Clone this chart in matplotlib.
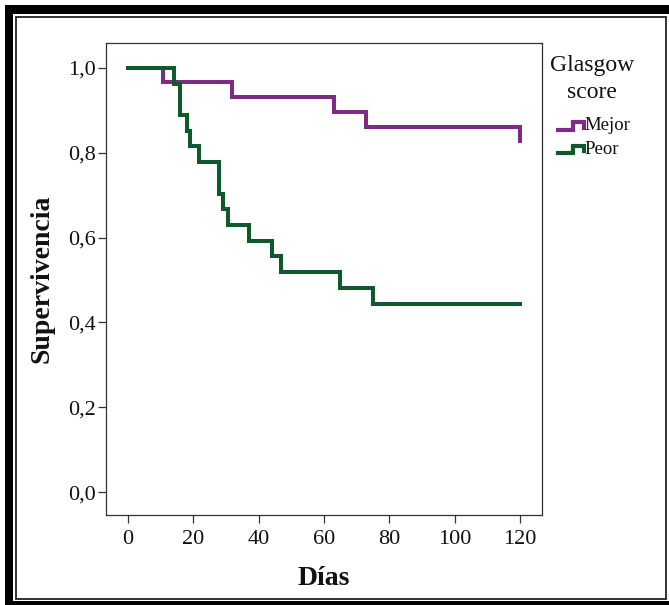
import matplotlib
matplotlib.use("Agg")
import matplotlib.pyplot as plt
from matplotlib.patches import Rectangle
from matplotlib.lines import Line2D

# ---- data ----
group_names = ["Mejor", "Peor"]
mejor_days = [0, 10.6, 32, 63, 73, 120]
mejor_surv = [1.0, 0.966, 0.931, 0.897, 0.862, 0.828]
peor_days = [0, 14.1, 15.9, 18.2, 19.0, 21.8, 28.0, 29.2, 30.7, 37.0, 44.0, 46.8, 64.9, 75.1, 120]
peor_surv = [1.0, 0.963, 0.889, 0.852, 0.815, 0.778, 0.704, 0.667, 0.630, 0.593, 0.556, 0.519, 0.481, 0.444, 0.444]
x_ticks = [0, 20, 40, 60, 80, 100, 120]
y_ticks = [0.0, 0.2, 0.4, 0.6, 0.8, 1.0]
y_tick_labels = ["0,0", "0,2", "0,4", "0,6", "0,8", "1,0"]

PURPLE = "#7e2b86"
GREEN = "#0e5a2d"
FONT = "Liberation Serif"

W, H = 669, 605
fig = plt.figure(figsize=(W / 100, H / 100), dpi=100)
plt.rcParams["font.family"] = FONT


def fx(x):
    return x / W


def fy(y):
    return 1 - y / H


def rect_px(x0, y0, x1, y1, **kw):
    fig.add_artist(Rectangle((fx(x0), fy(y1)), fx(x1) - fx(x0), fy(y0) - fy(y1),
                             transform=fig.transFigure, **kw))


# frame: thick outer bars and thin inner rectangle
rect_px(5, 5, 12.5, 605, facecolor="black", edgecolor="none")
rect_px(5, 5, 669, 13.5, facecolor="black", edgecolor="none")
rect_px(5, 600.5, 669, 605, facecolor="black", edgecolor="none")
rect_px(15.5, 16.5, 666, 598.5, facecolor="none", edgecolor="#222222", linewidth=1.3)

# axes
left, right, top, bottom = 106, 542, 43, 515
ax = fig.add_axes([fx(left), fy(bottom), fx(right) - fx(left), fy(top) - fy(bottom)])
ax.step(mejor_days, mejor_surv, where="post", color=PURPLE, linewidth=2.9, solid_joinstyle="miter")
ax.step(peor_days, peor_surv, where="post", color=GREEN, linewidth=2.9, solid_joinstyle="miter")

ax.set_xlim(-6.7, 126.7)
ax.set_ylim(-0.054, 1.059)
ax.set_xticks(x_ticks)
ax.set_xticklabels([str(t) for t in x_ticks])
ax.set_yticks(y_ticks)
ax.set_yticklabels(y_tick_labels)
for s in ax.spines.values():
    s.set_color("#333333")
    s.set_linewidth(0.9)
ax.tick_params(axis="both", direction="out", length=6, width=0.9, color="#333333",
               labelsize=16, labelcolor="#111111")
ax.tick_params(axis="x", pad=5)
ax.tick_params(axis="y", pad=1)
for lab in ax.get_xticklabels() + ax.get_yticklabels():
    lab.set_family(FONT)

ax.set_xlabel("Días", fontsize=20, fontweight="bold", family=FONT, labelpad=12, color="#111111")
ax.set_ylabel("Supervivencia", fontsize=20, fontweight="bold", family=FONT, labelpad=10, color="#111111")

# legend (manual, SPSS-style step glyphs)
fig.text(fx(592), fy(66), "Glasgow", ha="center", va="center", fontsize=17, family=FONT, color="#111111")
fig.text(fx(592), fy(93), "score", ha="center", va="center", fontsize=17, family=FONT, color="#111111")
for name, col, yb, yt in [(group_names[0], PURPLE, 130, 122), (group_names[1], GREEN, 153, 146)]:
    xs = [558, 573, 573, 584, 584]
    ys = [yb, yb, yt, yt, yb - 2]
    fig.add_artist(Line2D([fx(v) for v in xs], [fy(v) for v in ys], transform=fig.transFigure,
                          color=col, linewidth=3.0, solid_joinstyle="miter"))
    fig.text(fx(584), fy((yb + yt) / 2), name, ha="left", va="center", fontsize=13.5,
             family=FONT, color="#111111")

fig.savefig("out.png", dpi=100)
